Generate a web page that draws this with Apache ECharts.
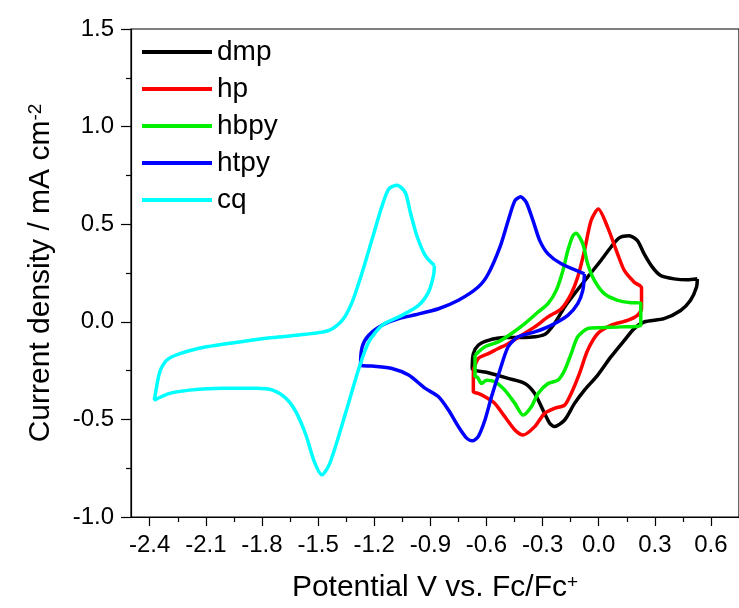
<!DOCTYPE html>
<html>
<head>
<meta charset="utf-8">
<script src="https://cdn.jsdelivr.net/npm/echarts@6/dist/echarts.min.js"></script>
<style>
  html, body { margin: 0; padding: 0; background: #fff; }
  #chart { width: 739px; height: 608px; }
</style>
</head>
<body>
<div id="chart"></div>
<script>
// cyclic voltammograms, [potential V, current density mA cm-2]
const seriesNames = ['dmp', 'hp', 'hbpy', 'htpy', 'cq'];
const seriesColors = ['#000000', '#ff0000', '#00ee00', '#0000ff', '#00ffff'];

const dmp = [
    [0.527, 0.220], [0.473, 0.215], [0.403, 0.220], [0.331, 0.237], [0.287, 0.280], [0.243, 0.348],
    [0.207, 0.416], [0.163, 0.441], [0.110, 0.430], [0.065, 0.382], [0.012, 0.314], [-0.059, 0.229],
    [-0.129, 0.144], [-0.182, 0.076], [-0.236, -0.009], [-0.289, -0.065], [-0.395, -0.081],
    [-0.502, -0.081], [-0.590, -0.095], [-0.644, -0.120], [-0.670, -0.163], [-0.676, -0.239],
    [-0.590, -0.261], [-0.484, -0.290], [-0.395, -0.316], [-0.342, -0.367], [-0.298, -0.452],
    [-0.262, -0.520], [-0.236, -0.537], [-0.182, -0.503], [-0.129, -0.418], [-0.076, -0.350],
    [-0.005, -0.273], [0.065, -0.180], [0.137, -0.095], [0.190, -0.035], [0.243, -0.001],
    [0.349, 0.016], [0.438, 0.058], [0.491, 0.110], [0.523, 0.178], [0.527, 0.220]
];

const hp = [
    [-0.670, -0.248], [-0.644, -0.188], [-0.590, -0.163], [-0.537, -0.137], [-0.484, -0.112],
    [-0.413, -0.069], [-0.342, -0.026], [-0.271, 0.025], [-0.200, 0.067], [-0.147, 0.144],
    [-0.112, 0.229], [-0.076, 0.365], [-0.041, 0.518], [-0.002, 0.578], [0.048, 0.484],
    [0.101, 0.348], [0.137, 0.263], [0.190, 0.203], [0.229, 0.175], [0.229, 0.067], [0.207, 0.033],
    [0.154, 0.007], [0.065, -0.018], [-0.005, -0.060], [-0.059, -0.146], [-0.103, -0.265],
    [-0.147, -0.367], [-0.182, -0.427], [-0.236, -0.443], [-0.289, -0.469], [-0.342, -0.537],
    [-0.404, -0.580], [-0.448, -0.554], [-0.502, -0.486], [-0.555, -0.418], [-0.608, -0.384],
    [-0.644, -0.367], [-0.670, -0.358], [-0.670, -0.248]
];

const hbpy = [
    [-0.661, -0.171], [-0.608, -0.128], [-0.537, -0.103], [-0.466, -0.060], [-0.395, -0.009],
    [-0.324, 0.050], [-0.271, 0.093], [-0.227, 0.161], [-0.191, 0.263], [-0.165, 0.365],
    [-0.138, 0.441], [-0.121, 0.454], [-0.085, 0.399], [-0.059, 0.297], [-0.023, 0.212],
    [0.030, 0.144], [0.101, 0.110], [0.172, 0.098], [0.225, 0.096], [0.225, -0.018],
    [0.119, -0.026], [0.012, -0.030], [-0.059, -0.035], [-0.112, -0.077], [-0.147, -0.163],
    [-0.182, -0.248], [-0.218, -0.299], [-0.271, -0.316], [-0.324, -0.367], [-0.360, -0.435],
    [-0.404, -0.478], [-0.448, -0.418], [-0.502, -0.350], [-0.555, -0.307], [-0.599, -0.299],
    [-0.626, -0.316], [-0.652, -0.282], [-0.661, -0.282], [-0.661, -0.171]
];

const htpy = [
    [-0.076, 0.246], [-0.200, 0.297], [-0.271, 0.348], [-0.315, 0.416], [-0.351, 0.518],
    [-0.387, 0.612], [-0.417, 0.640], [-0.448, 0.620], [-0.484, 0.518], [-0.528, 0.382],
    [-0.590, 0.246], [-0.644, 0.178], [-0.750, 0.110], [-0.856, 0.067], [-0.980, 0.036],
    [-1.069, 0.016], [-1.158, -0.018], [-1.229, -0.069], [-1.264, -0.128], [-1.273, -0.222],
    [-1.211, -0.227], [-1.105, -0.239], [-1.016, -0.273], [-0.927, -0.341], [-0.856, -0.384],
    [-0.803, -0.452], [-0.750, -0.537], [-0.706, -0.596], [-0.676, -0.610], [-0.644, -0.588],
    [-0.608, -0.503], [-0.573, -0.384], [-0.528, -0.248], [-0.484, -0.128], [-0.431, -0.077],
    [-0.342, -0.052], [-0.254, -0.018], [-0.165, 0.033], [-0.112, 0.093], [-0.085, 0.161],
    [-0.076, 0.246]
];

const cq = [
    [-0.878, 0.288], [-0.927, 0.339], [-0.972, 0.441], [-1.007, 0.561], [-1.034, 0.663],
    [-1.078, 0.700], [-1.122, 0.680], [-1.158, 0.594], [-1.211, 0.424], [-1.264, 0.254],
    [-1.318, 0.101], [-1.371, 0.007], [-1.441, -0.044], [-1.565, -0.064], [-1.743, -0.081],
    [-1.920, -0.103], [-2.097, -0.128], [-2.239, -0.163], [-2.310, -0.197], [-2.346, -0.256],
    [-2.375, -0.401], [-2.293, -0.367], [-2.186, -0.350], [-2.009, -0.341], [-1.831, -0.341],
    [-1.743, -0.350], [-1.672, -0.392], [-1.619, -0.460], [-1.565, -0.580], [-1.521, -0.715],
    [-1.480, -0.784], [-1.441, -0.733], [-1.388, -0.580], [-1.335, -0.409], [-1.282, -0.239],
    [-1.229, -0.103], [-1.158, -0.018], [-1.052, 0.033], [-0.963, 0.084], [-0.910, 0.152],
    [-0.883, 0.237], [-0.878, 0.288]
];

const xTicks = [-2.4, -2.1, -1.8, -1.5, -1.2, -0.9, -0.6, -0.3, 0.0, 0.3, 0.6];
const xMinorTicks = [-2.25, -1.95, -1.65, -1.35, -1.05, -0.75, -0.45, -0.15, 0.15, 0.45];

const font = "'Liberation Sans', Arial, sans-serif";
const chart = echarts.init(document.getElementById('chart'), null, { renderer: 'canvas' });

const curves = [dmp, hp, hbpy, htpy, cq];
const series = curves.map((d, i) => ({
    name: seriesNames[i],
    type: 'line',
    data: d,
    showSymbol: false,
    smooth: 0.25,
    lineStyle: { color: seriesColors[i], width: 3.5 },
    itemStyle: { color: seriesColors[i] },
    z: 2 + i
}));

chart.setOption({
    animation: false,
    textStyle: { fontFamily: font },
    grid: {
        left: 131, top: 29, width: 611, height: 490,
        show: true, borderColor: '#000', borderWidth: 1.2, backgroundColor: 'transparent'
    },
    legend: {
        data: seriesNames,
        orient: 'vertical',
        left: 137,
        top: 33,
        icon: 'rect',
        itemWidth: 70,
        itemHeight: 4,
        itemGap: 9,
        textStyle: { fontSize: 28, color: '#000', fontFamily: font }
    },
    xAxis: [{
        type: 'value',
        min: -2.5,
        max: 0.75,
        name: '{a|Potential V vs. Fc/Fc}{b|+}',
        nameLocation: 'middle',
        nameGap: 56,
        nameTextStyle: {
            rich: {
                a: { fontSize: 30, color: '#000', fontFamily: font },
                b: { fontSize: 19, color: '#000', fontFamily: font, verticalAlign: 'top' }
            }
        },
        axisLine: { show: true, onZero: false, lineStyle: { color: '#000', width: 1.2 } },
        axisTick: { show: true, inside: false, length: 9, customValues: xTicks, lineStyle: { color: '#000', width: 1.2 } },
        axisLabel: {
            customValues: xTicks,
            margin: 16,
            fontSize: 24,
            color: '#000',
            fontFamily: font,
            formatter: v => v.toFixed(1)
        },
        splitLine: { show: false }
    }, {
        // second axis only for the half-step ticks
        type: 'value',
        min: -2.5,
        max: 0.75,
        position: 'bottom',
        axisLine: { show: false, onZero: false },
        axisTick: { show: true, length: 5, customValues: xMinorTicks, lineStyle: { color: '#000', width: 1.2 } },
        axisLabel: { show: false },
        splitLine: { show: false }
    }],
    yAxis: {
        type: 'value',
        min: -1.0,
        max: 1.5,
        interval: 0.5,
        name: '{a|Current density / mA cm}{b|-2}',
        nameLocation: 'middle',
        nameGap: 75,
        nameTextStyle: {
            rich: {
                a: { fontSize: 30, color: '#000', fontFamily: font },
                b: { fontSize: 19, color: '#000', fontFamily: font, verticalAlign: 'top' }
            }
        },
        axisLine: { show: true, onZero: false, lineStyle: { color: '#000', width: 1.2 } },
        axisTick: { show: true, inside: false, length: 10, lineStyle: { color: '#000', width: 1.2 } },
        minorTick: { show: true, splitNumber: 2, length: 5, lineStyle: { color: '#000', width: 1.2 } },
        axisLabel: {
            margin: 17,
            fontSize: 24,
            color: '#000',
            fontFamily: font,
            formatter: v => v.toFixed(1)
        },
        splitLine: { show: false }
    },
    series: series
});
</script>
</body>
</html>
